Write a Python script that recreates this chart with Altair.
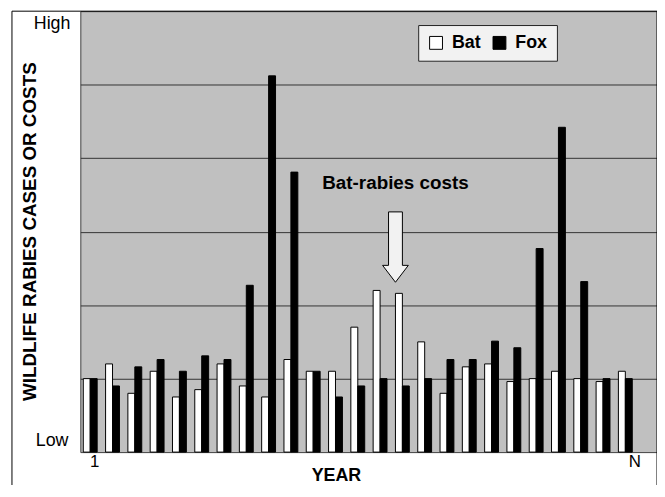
import altair as alt
import pandas as pd

# ---- data ----
years = list(range(1, 26))
bat = [1.0, 1.2, 0.8, 1.1, 0.75, 0.85, 1.2, 0.9, 0.75, 1.26, 1.1, 1.1, 1.7,
       2.2, 2.16, 1.5, 0.8, 1.16, 1.2, 0.96, 1.0, 1.1, 1.0, 0.96, 1.1]
fox = [1.0, 0.9, 1.16, 1.26, 1.1, 1.31, 1.26, 2.27, 5.12, 3.81, 1.1, 0.75, 0.9,
       1.0, 0.9, 1.0, 1.26, 1.26, 1.51, 1.42, 2.77, 4.42, 2.32, 1.0, 1.0]
series = ["Bat", "Fox"]
x_tick_values = [1, 25]
x_tick_labels = ["1", "N"]
y_labels = ["Low", "High"]
annotation_text = "Bat-rabies costs"

FONT = "Liberation Sans"
BAR_W = 0.311

df = pd.DataFrame({"year": years, "Bat": bat, "Fox": fox}).melt(
    id_vars="year", var_name="series", value_name="value")

xscale = alt.Scale(domain=[0.556, 26.42], nice=False, zero=False)
yscale = alt.Scale(domain=[0, 6], nice=False)

label_expr = (f"datum.value == {x_tick_values[0]} ? '{x_tick_labels[0]}' : "
              f"'{x_tick_labels[1]}'")

bars = alt.Chart(df).transform_calculate(
    x0=f"datum.year + (datum.series == 'Bat' ? -{BAR_W} : 0)",
    x1=f"datum.year + (datum.series == 'Bat' ? 0 : {BAR_W})",
).mark_bar(stroke="black", strokeWidth=1).encode(
    x=alt.X("x0:Q", scale=xscale, axis=alt.Axis(
        values=x_tick_values,
        labelExpr=label_expr,
        title="YEAR", titleFont=FONT, titleFontSize=18, titleFontWeight="bold",
        titleColor="black", titleX=258, titleY=29, titleAlign="center",
        titleBaseline="alphabetic",
        labelFont=FONT, labelFontSize=17, labelColor="black",
        labelOffset={"condition": {"test": "datum.value == 25", "value": 9}, "value": 4},
        labelPadding=2, domain=False, ticks=False, grid=False)),
    x2="x1:Q",
    y=alt.Y("value:Q", scale=yscale, axis=alt.Axis(
        values=[1, 2, 3, 4, 5], labels=False, ticks=False, domain=False,
        grid=True, gridColor="#333333", gridWidth=1, gridOpacity=1,
        title="WILDLIFE RABIES CASES OR COSTS", titleFont=FONT,
        titleFontSize=19, titleFontWeight="bold", titleColor="black",
        titleAngle=270, titleX=-51, titleY=222, titleAlign="center",
        titleBaseline="middle")),
    y2=alt.datum(0),
    color=alt.Color("series:N", scale=alt.Scale(domain=series, range=["white", "black"]),
                    legend=alt.Legend(
                        orient="none", legendX=341, legendY=14, direction="horizontal",
                        title=None, symbolType="square", symbolSize=169,
                        symbolStrokeColor="black", symbolStrokeWidth=1,
                        labelFont=FONT, labelFontSize=18, labelFontWeight="bold",
                        labelColor="black", labelOffset=7, columnPadding=9,
                        fillColor="#f2f2f2", strokeColor="#222222", padding=9)),
)

hl = pd.DataFrame({"label": y_labels, "y": [0, 6]})
low = alt.Chart(hl[hl.label == "Low"]).mark_text(
    font=FONT, fontSize=18, align="right", baseline="middle", dy=-11, color="black"
).encode(x=alt.value(-12), y=alt.Y("y:Q", scale=yscale), text="label:N")
high = alt.Chart(hl[hl.label == "High"]).mark_text(
    font=FONT, fontSize=18, align="right", baseline="middle", dy=13, color="black"
).encode(x=alt.value(-10), y=alt.Y("y:Q", scale=yscale), text="label:N")

ann = pd.DataFrame({"x": [14.69], "y_arrow": [2.79], "y_text": [3.66], "text": [annotation_text]})
arrow_path = ("M -0.197 -1 L 0.197 -1 L 0.197 0.52 L 0.366 0.52 L 0 1 "
              "L -0.366 0.52 L -0.197 0.52 Z")
arrow = alt.Chart(ann).mark_point(
    shape=arrow_path, size=5041, filled=True, fill="#f2f2f2", stroke="black",
    strokeWidth=1, opacity=1
).encode(x=alt.X("x:Q", scale=xscale), y=alt.Y("y_arrow:Q", scale=yscale))
label = alt.Chart(ann).mark_text(
    font=FONT, fontSize=19, fontWeight="bold", color="black", baseline="middle"
).encode(x=alt.X("x:Q", scale=xscale), y=alt.Y("y_text:Q", scale=yscale), text="text:N")

border = alt.Chart(ann).mark_rect(fill="transparent", stroke="black", strokeWidth=1).encode(
    x=alt.value(-69), x2=alt.value(582), y=alt.value(0), y2=alt.value(520))

chart = alt.layer(border, bars, low, high, arrow, label).properties(
    width=582, height=445,
    autosize=alt.AutoSizeParams(type="none"),
    padding={"left": 73, "top": 1, "right": 0, "bottom": 31},
).configure(background="white").configure_view(
    fill="#c0c0c0", stroke="#404040", strokeWidth=1)

chart.save("out.html", embed_options={"renderer": "svg", "actions": False})
